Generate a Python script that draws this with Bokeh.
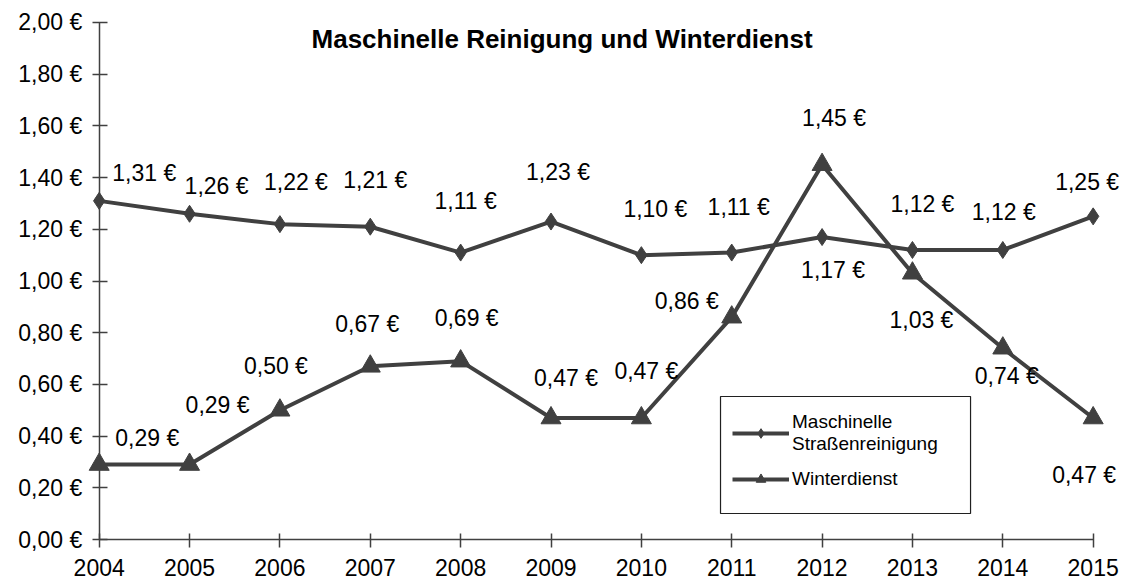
from bokeh.plotting import figure
from bokeh.models import Range1d, FixedTicker, Legend, LegendItem, Label, ColumnDataSource, BoxAnnotation
from bokeh.embed import file_html
from bokeh.resources import INLINE
from bokeh.core.properties import value

# ---- data ----
years = [2004, 2005, 2006, 2007, 2008, 2009, 2010, 2011, 2012, 2013, 2014, 2015]
strassen = [1.31, 1.26, 1.22, 1.21, 1.11, 1.23, 1.10, 1.11, 1.17, 1.12, 1.12, 1.25]
winter = [0.29, 0.29, 0.50, 0.67, 0.69, 0.47, 0.47, 0.86, 1.45, 1.03, 0.74, 0.47]
y_ticks = [0.0, 0.2, 0.4, 0.6, 0.8, 1.0, 1.2, 1.4, 1.6, 1.8, 2.0]
y_tick_labels = ["0,00 €", "0,20 €", "0,40 €", "0,60 €", "0,80 €", "1,00 €",
                 "1,20 €", "1,40 €", "1,60 €", "1,80 €", "2,00 €"]
title_text = "Maschinelle Reinigung und Winterdienst"
series_names = ["Maschinelle\nStraßenreinigung", "Winterdienst"]

# ---- label placement (screen pixel offsets, y down) ----
s_dx = [45, 27, 16, 5, 5, 7, 14, 7, 11, 10, 1, -6]
s_dy = [-28, -28, -42, -47, -52, -50, -46, -46, 33, -46, -38, -34]
w_dx = [48, 28, -4, -3, 6, 15, 5, -45, 12, 9, 4, -9]
w_dy = [-27, -60, -44, -42, -43, -40, -47, -16, -47, 47, 28, 57]

def euro(v):
    return f"{v:.2f}".replace(".", ",") + " €"

DARK = "#404040"
FONT = "Liberation Sans"

p = figure(width=1124, height=580,
           x_range=Range1d(2002.9077, 2015.3468), y_range=Range1d(-0.1586, 2.0851),
           min_border=0, min_border_left=0, min_border_right=0,
           min_border_top=0, min_border_bottom=0,
           toolbar_location=None, output_backend="svg")
p.outline_line_color = None
p.grid.visible = False
p.background_fill_color = "white"

# axes
p.xaxis.fixed_location = 0
p.yaxis.fixed_location = 2004
p.xaxis.bounds = (years[0], years[-1])
p.yaxis.bounds = (y_ticks[0], y_ticks[-1])
p.xaxis.ticker = FixedTicker(ticks=years)
p.yaxis.ticker = FixedTicker(ticks=y_ticks)
p.yaxis.major_label_overrides = {t: l for t, l in zip(y_ticks, y_tick_labels)}
for ax in (p.xaxis, p.yaxis):
    ax.axis_line_color = DARK
    ax.axis_line_width = 1.5
    ax.major_tick_line_color = DARK
    ax.major_tick_line_width = 1.5
    ax.minor_tick_line_color = None
    ax.major_label_text_font = FONT
    ax.major_label_text_font_size = "23px"
    ax.major_label_text_color = "black"
p.xaxis.major_tick_in = 6
p.xaxis.major_tick_out = 8
p.xaxis.major_label_standoff = 11
p.yaxis.major_tick_in = 8
p.yaxis.major_tick_out = 7
p.yaxis.major_label_standoff = 10

# series
l1 = p.line(years, strassen, line_color=DARK, line_width=4)
m1 = p.scatter(years, strassen, marker="diamond", size=17, color=DARK)
l2 = p.line(years, winter, line_color=DARK, line_width=4)
m2 = p.scatter(years, winter, marker="triangle", size=20, color=DARK)

# data labels
src = ColumnDataSource(dict(
    x=years + years,
    y=strassen + winter,
    t=[euro(v) for v in strassen] + [euro(v) for v in winter],
    dx=s_dx + w_dx,
    dy=s_dy + w_dy,
))
p.text(x="x", y="y", text="t", x_offset="dx", y_offset="dy", source=src,
       text_font=value(FONT), text_font_size="23px", text_color="black",
       text_align="center", text_baseline="middle")

# title
p.add_layout(Label(x=2009.122, y=1.938, text=title_text, text_font=FONT,
                   text_font_style="bold", text_font_size="26px", text_color="black",
                   text_align="center", text_baseline="middle"))

# legend frame
p.add_layout(BoxAnnotation(left=2010.876, right=2013.643, bottom=0.1006, top=0.5532,
                           fill_color="white", fill_alpha=1.0,
                           line_color="#202020", line_alpha=1.0, line_width=1.2))

# legend
legend = Legend(items=[LegendItem(label=series_names[0], renderers=[l1, m1]),
                       LegendItem(label=series_names[1], renderers=[l2, m2])],
                location=(732, 580 - 491), orientation="vertical",
                label_text_font=FONT, label_text_font_size="19px",
                label_text_color="black", label_standoff=3,
                glyph_width=57, glyph_height=24, spacing=12,
                padding=8, margin=0,
                border_line_color=None,
                background_fill_alpha=0.0)
p.add_layout(legend)

open("out.html", "w").write(file_html(p, INLINE))
